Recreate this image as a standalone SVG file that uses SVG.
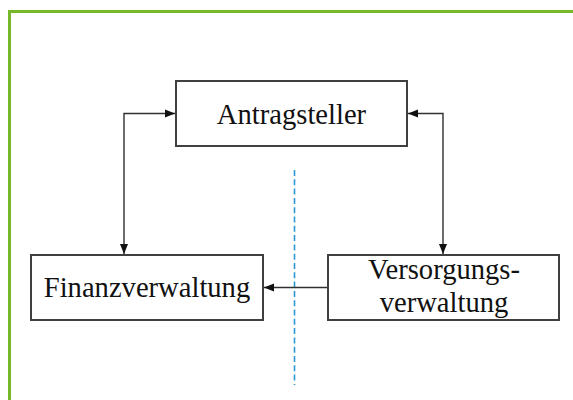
<svg xmlns="http://www.w3.org/2000/svg" width="573" height="400" viewBox="0 0 573 400">
<defs>
<style>
.box{fill:#fff;stroke:#404040;stroke-width:2}
.lbl{font-family:'Liberation Serif','Times New Roman',serif;font-size:28.6px;fill:#111;text-anchor:middle}
.con{fill:none;stroke:#303030;stroke-width:1.4}
</style>
<marker id="ah" viewBox="0 0 10 10" refX="10" refY="5" markerWidth="10" markerHeight="10" markerUnits="userSpaceOnUse" orient="auto-start-reverse">
<path d="M0,1 L10,5 L0,9 z" fill="#111"/>
</marker>
</defs>
<rect width="573" height="400" fill="#fff"/>
<path d="M9.5,400 V11.5 H573" fill="none" stroke="#76b82a" stroke-width="3"/>
<line x1="294.5" y1="170" x2="294.5" y2="385" stroke="#2e97d0" stroke-width="1.6" stroke-dasharray="6,3.3"/>
<g id="antragsteller">
<rect class="box" x="176" y="81" width="231" height="65"/>
<text class="lbl" x="291.5" y="124">Antragsteller</text>
</g>
<g id="finanzverwaltung">
<rect class="box" x="31" y="255" width="232" height="65"/>
<text class="lbl" x="147" y="297">Finanzverwaltung</text>
</g>
<g id="versorgungsverwaltung">
<rect class="box" x="328" y="255" width="231" height="65"/>
<text class="lbl" x="444" y="279">Versorgungs-</text>
<text class="lbl" x="444" y="312">verwaltung</text>
</g>
<g id="connectors">
<path class="con" d="M124,254 V113.5 H175" marker-start="url(#ah)" marker-end="url(#ah)"/>
<path class="con" d="M443,254 V113.5 H408" marker-start="url(#ah)" marker-end="url(#ah)"/>
<path class="con" d="M327,287.5 H264" marker-end="url(#ah)"/>
</g>
</svg>
